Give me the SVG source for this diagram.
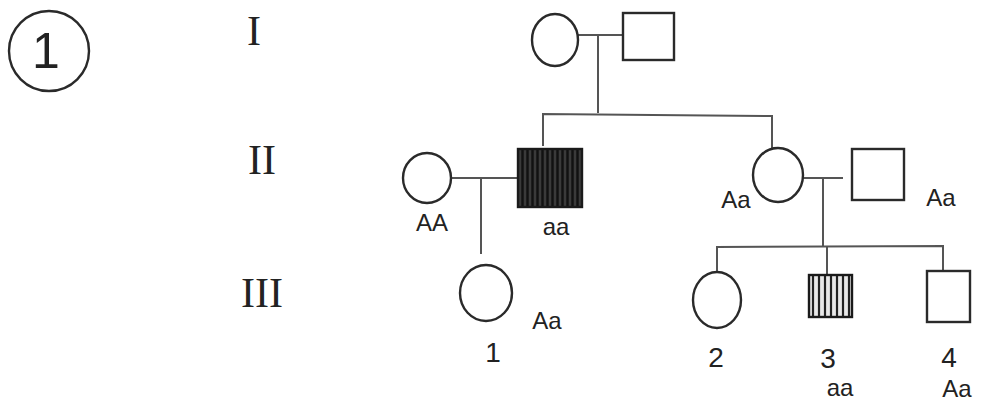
<svg xmlns="http://www.w3.org/2000/svg" width="986" height="407" viewBox="0 0 986 407">
<defs>
<style>
.sym{fill:none;stroke:#2a2a2a;stroke-width:2.4}
.ln{fill:none;stroke:#555;stroke-width:2}
.lbl{font-family:"Liberation Sans","DejaVu Sans",sans-serif;font-size:24px;fill:#222}
.num{font-family:"Liberation Sans","DejaVu Sans",sans-serif;font-size:28px;fill:#222}
.big{font-family:"Liberation Sans","DejaVu Sans",sans-serif;font-size:50px;fill:#222}
.rom{font-family:"Liberation Serif","DejaVu Serif",serif;font-size:42px;fill:#222}
</style>
<pattern id="dense" width="5" height="10" patternUnits="userSpaceOnUse">
<rect width="5" height="10" fill="#3a3a3a"/>
<line x1="2.5" y1="0" x2="2.5" y2="10" stroke="#111" stroke-width="2.5"/>
</pattern>
<pattern id="light" width="6" height="10" patternUnits="userSpaceOnUse">
<rect width="6" height="10" fill="#e8e8e8"/>
<line x1="3" y1="0" x2="3" y2="10" stroke="#222" stroke-width="2.2"/>
</pattern>
</defs>
<rect width="986" height="407" fill="#fff"/>
<g id="title">
<ellipse cx="49" cy="51" rx="40" ry="40" class="sym"/>
<text x="46" y="68" class="big" text-anchor="middle">1</text>
</g>
<g id="gen-labels">
<text x="254" y="45" class="rom" text-anchor="middle">I</text>
<text x="262" y="174" class="rom" text-anchor="middle">II</text>
<text x="262" y="307" class="rom" text-anchor="middle">III</text>
</g>
<g id="connectors">
<line x1="578" y1="35" x2="623" y2="35" class="ln"/>
<line x1="598" y1="35" x2="598" y2="113" class="ln"/>
<polyline points="543,146 543,114 772,116 772,148" class="ln"/>
<line x1="450" y1="178" x2="517" y2="178" class="ln"/>
<line x1="481" y1="178" x2="481" y2="254" class="ln"/>
<line x1="803" y1="178" x2="843" y2="178" class="ln"/>
<line x1="823" y1="178" x2="823" y2="246" class="ln"/>
<polyline points="717,273 717,247 943,246 943,271" class="ln"/>
<line x1="827" y1="247" x2="827" y2="275" class="ln"/>
</g>
<g id="I-1"><ellipse cx="555" cy="40" rx="23" ry="26" class="sym"/></g>
<g id="I-2"><rect x="623" y="13" width="51" height="47" class="sym"/></g>
<g id="II-1">
<ellipse cx="427" cy="178" rx="24" ry="25" class="sym"/>
<text x="432" y="231" class="lbl" text-anchor="middle">AA</text>
</g>
<g id="II-2">
<rect x="518" y="149" width="64" height="58" fill="url(#dense)" stroke="#1a1a1a" stroke-width="2.4"/>
<text x="556" y="235" class="lbl" text-anchor="middle">aa</text>
</g>
<g id="II-3">
<ellipse cx="778" cy="175" rx="25" ry="27" class="sym"/>
<text x="736" y="208" class="lbl" text-anchor="middle">Aa</text>
</g>
<g id="II-4">
<rect x="852" y="149" width="52" height="51" class="sym"/>
<text x="941" y="206" class="lbl" text-anchor="middle">Aa</text>
</g>
<g id="III-1">
<ellipse cx="486" cy="293" rx="26" ry="28" class="sym"/>
<text x="547" y="329" class="lbl" text-anchor="middle">Aa</text>
<text x="493" y="362" class="num" text-anchor="middle">1</text>
</g>
<g id="III-2">
<ellipse cx="717" cy="300" rx="24" ry="28" class="sym"/>
<text x="716" y="367" class="num" text-anchor="middle">2</text>
</g>
<g id="III-3">
<rect x="809" y="275" width="43" height="42" fill="url(#light)" stroke="#1a1a1a" stroke-width="2.4"/>
<text x="828" y="368" class="num" text-anchor="middle">3</text>
<text x="840" y="396" class="lbl" text-anchor="middle">aa</text>
</g>
<g id="III-4">
<rect x="927" y="271" width="43" height="51" class="sym"/>
<text x="949" y="367" class="num" text-anchor="middle">4</text>
<text x="957" y="397" class="lbl" text-anchor="middle">Aa</text>
</g>
</svg>
